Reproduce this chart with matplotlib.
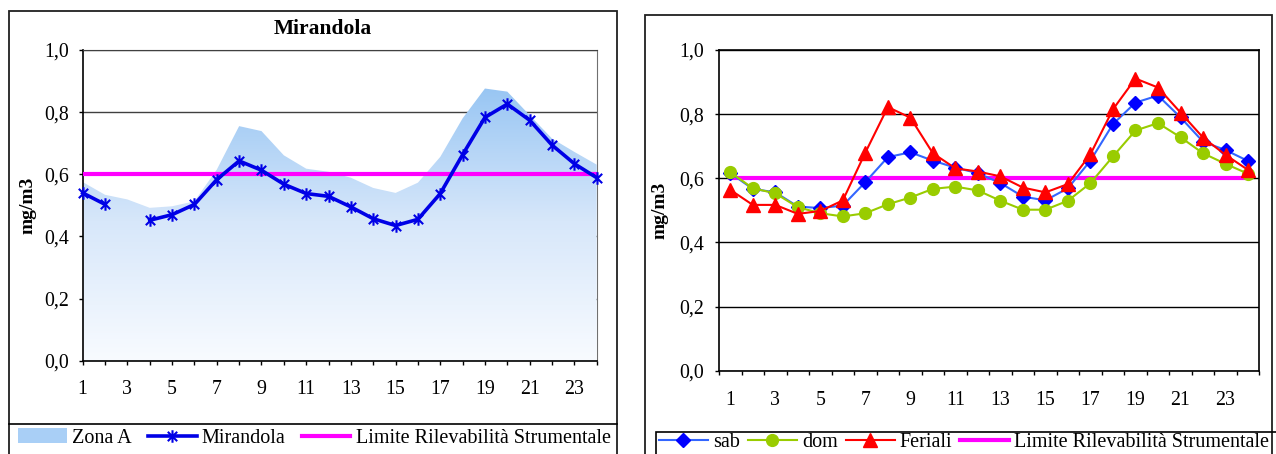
import numpy as np
import matplotlib
matplotlib.use("Agg")
import matplotlib.pyplot as plt
from matplotlib.path import Path
from matplotlib.patches import Rectangle, Patch
from matplotlib.lines import Line2D
from matplotlib.colors import LinearSegmentedColormap

plt.rcParams['font.family'] = ['Liberation Serif', 'DejaVu Serif']

# data (hourly averages, mg/m3)
hours = np.arange(1, 25)
zona_a = [0.575, 0.534, 0.519, 0.492, 0.497, 0.513, 0.615, 0.755, 0.739, 0.661,
          0.618, 0.608, 0.589, 0.556, 0.540, 0.573, 0.656, 0.780, 0.876, 0.866,
          0.790, 0.715, 0.672, 0.631]
mirandola = [0.540, 0.503, np.nan, 0.452, 0.470, 0.503, 0.583, 0.643, 0.613, 0.568,
             0.538, 0.529, 0.495, 0.457, 0.435, 0.455, 0.538, 0.663, 0.783, 0.826,
             0.774, 0.694, 0.634, 0.589]
sab = [0.616, 0.567, 0.556, 0.512, 0.507, 0.515, 0.588, 0.666, 0.681, 0.655,
       0.633, 0.616, 0.585, 0.543, 0.531, 0.569, 0.655, 0.769, 0.836, 0.858,
       0.790, 0.714, 0.688, 0.654]
dom = [0.619, 0.569, 0.553, 0.510, 0.491, 0.481, 0.491, 0.519, 0.540, 0.567,
       0.574, 0.562, 0.530, 0.502, 0.502, 0.530, 0.585, 0.668, 0.749, 0.772,
       0.728, 0.678, 0.645, 0.614]
feriali = [0.564, 0.517, 0.517, 0.489, 0.498, 0.531, 0.680, 0.822, 0.789, 0.678,
           0.631, 0.621, 0.606, 0.571, 0.556, 0.582, 0.675, 0.815, 0.911, 0.883,
           0.805, 0.727, 0.673, 0.626]
limite = 0.6

y_ticks = [0.0, 0.2, 0.4, 0.6, 0.8, 1.0]
y_labels = ['0,0', '0,2', '0,4', '0,6', '0,8', '1,0']
x_labels = [str(h) if h % 2 else '' for h in hours]

W, H = 1276, 454
fig = plt.figure(figsize=(W / 100, H / 100), dpi=100)


def fx(px):
    return px / W


def fy(py):
    return 1 - py / H


# Excel-like star marker: X plus a vertical bar
star = Path([(0, -1), (0, 1), (-0.75, -0.75), (0.75, 0.75), (-0.75, 0.75), (0.75, -0.75)],
            [Path.MOVETO, Path.LINETO] * 3)

TICK_FS = 14.3
LEG_FS = 14.5

# ---------------- left chart ----------------
ax1 = fig.add_axes([fx(82.7), fy(360.7), fx(596.7) - fx(82.7), fy(50) - fy(360.7)])
grad = np.linspace(0, 1, 256).reshape(-1, 1)
cmap = LinearSegmentedColormap.from_list('zona', ['#F8FBFF', '#D7E7FA', '#95C4F3'])
im = ax1.imshow(grad, extent=[1, 24, 0, 0.9], origin='lower', cmap=cmap,
                aspect='auto', zorder=1)
poly = ax1.fill_between(hours, zona_a, 0, color='none', lw=0)
im.set_clip_path(poly.get_paths()[0], transform=ax1.transData)

ax1.plot(hours, np.full(len(hours), limite), color='#FF00FF', lw=3, zorder=3)
ax1.plot(hours, mirandola, color='#0000E6', lw=2.6, marker=star, ms=9, mew=1.5,
         zorder=4, clip_on=False)

ax1.set_xlim(1, 24)
ax1.set_ylim(0, 1)
ax1.set_xticks(hours)
ax1.set_xticklabels(x_labels)
ax1.set_yticks(y_ticks)
ax1.set_yticklabels(y_labels)
ax1.yaxis.grid(True, color='#404040', lw=1)
ax1.set_axisbelow(True)
ax1.tick_params(axis='both', direction='out', length=3, width=1, labelsize=TICK_FS)
ax1.tick_params(axis='x', pad=11)
ax1.tick_params(axis='y', pad=7)
for s in ['left', 'bottom']:
    ax1.spines[s].set_color('black')
    ax1.spines[s].set_linewidth(1.2)
ax1.spines['top'].set_color('#404040')
ax1.spines['right'].set_color('#707070')
ax1.spines['right'].set_zorder(0.6)
ax1.set_ylabel('mg/m3', fontsize=14, fontweight='bold', va='center')
ax1.yaxis.set_label_coords(-0.106, 0.5)

fig.text(fx(323), fy(29), 'Mirandola', ha='center', va='center',
         fontsize=15.5, fontweight='bold')

# ---------------- right chart ----------------
ax2 = fig.add_axes([fx(719), fy(370.7), fx(1259.3) - fx(719), fy(50) - fy(370.7)])
ax2.plot(hours, np.full(len(hours), limite), color='#FF00FF', lw=3, zorder=2)
ax2.plot(hours, sab, color='#3366FF', lw=1.5, marker='D', ms=7,
         mfc='#0000FF', mec='#0000FF', zorder=3, clip_on=False)
ax2.plot(hours, dom, color='#99CC00', lw=1.5, marker='o', ms=8.5,
         mfc='#99CC00', mec='#99CC00', zorder=4, clip_on=False)
ax2.plot(hours, feriali, color='#FF0000', lw=1.5, marker='^', ms=9.5,
         mfc='#FF0000', mec='#FF0000', zorder=5, clip_on=False)

ax2.set_xlim(0.5, 24.5)
ax2.set_ylim(0, 1)
ax2.set_xticks(hours[::2])
ax2.set_xticklabels([str(h) for h in hours[::2]])
ax2.set_xticks(np.arange(0.5, 25, 1), minor=True)
ax2.set_yticks(y_ticks)
ax2.set_yticklabels(y_labels)
ax2.yaxis.grid(True, color='black', lw=1)
ax2.set_axisbelow(True)
ax2.tick_params(axis='both', direction='out', length=3, width=1, labelsize=TICK_FS)
ax2.tick_params(axis='x', which='major', length=0, pad=14.5)
ax2.tick_params(axis='x', which='minor', direction='out', length=3, width=1)
ax2.tick_params(axis='y', pad=8)
for s in ax2.spines.values():
    s.set_color('black')
    s.set_linewidth(1.2)
ax2.set_ylabel('mg/m3', fontsize=14, fontweight='bold', va='center')
ax2.yaxis.set_label_coords(-0.110, 0.5)

# ---------------- frames and legends ----------------
fig.add_artist(Rectangle((fx(9), fy(480)), fx(617) - fx(9), fy(11) - fy(480),
                         transform=fig.transFigure, fill=False, ec='#202020', lw=1.3))
fig.add_artist(Line2D([fx(9), fx(617)], [fy(424), fy(424)], transform=fig.transFigure,
                      color='black', lw=1.2))
fig.add_artist(Rectangle((fx(645), fy(480)), fx(1272) - fx(645), fy(15) - fy(480),
                         transform=fig.transFigure, fill=False, ec='#202020', lw=1.3))
fig.add_artist(Rectangle((fx(656), fy(480)), fx(1320) - fx(656), fy(432) - fy(480),
                         transform=fig.transFigure, fill=False, ec='black', lw=1.2))

h1 = [Patch(facecolor='#A9CFF6', edgecolor='none'),
      Line2D([], [], color='#0000E6', lw=2.6, marker=star, ms=9, mew=1.5),
      Line2D([], [], color='#FF00FF', lw=3)]
fig.legend(h1, ['Zona A', 'Mirandola', 'Limite Rilevabilità Strumentale'],
           loc='center left', bbox_to_anchor=(fx(18), fy(438)), ncol=3,
           frameon=False, fontsize=LEG_FS, handlelength=2.43, handletextpad=0.25,
           columnspacing=0.8, borderpad=0, borderaxespad=0)

h2 = [Line2D([], [], color='#3366FF', lw=1.5, marker='D', ms=7, mfc='#0000FF', mec='#0000FF'),
      Line2D([], [], color='#99CC00', lw=1.5, marker='o', ms=8.5, mfc='#99CC00', mec='#99CC00'),
      Line2D([], [], color='#FF0000', lw=1.5, marker='^', ms=9.5, mfc='#FF0000', mec='#FF0000'),
      Line2D([], [], color='#FF00FF', lw=3)]
fig.legend(h2, ['sab', 'dom', 'Feriali', 'Limite Rilevabilità Strumentale'],
           loc='center left', bbox_to_anchor=(fx(659), fy(442)), ncol=4,
           frameon=False, fontsize=LEG_FS, handlelength=2.43, handletextpad=0.25,
           columnspacing=0.4, borderpad=0, borderaxespad=0)

fig.savefig('out.png', dpi=100)
